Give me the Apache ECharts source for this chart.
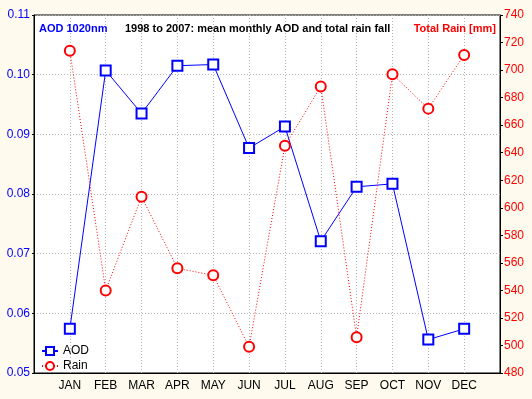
<!DOCTYPE html>
<html>
<head>
<meta charset="utf-8">
<script src="https://cdn.jsdelivr.net/npm/echarts@6/dist/echarts.min.js"></script>
<style>
    html, body { margin: 0; padding: 0; background: #fefaee; }
    #chart { width: 532px; height: 399px; }
</style>
</head>
<body>
<div id="chart"></div>
<script>
    'use strict';

    var months = ['JAN', 'FEB', 'MAR', 'APR', 'MAY', 'JUN', 'JUL', 'AUG', 'SEP', 'OCT', 'NOV', 'DEC'];
    var aod = [0.0574, 0.1007, 0.0935, 0.1015, 0.1017, 0.0877, 0.0913, 0.0721, 0.0812, 0.0817, 0.0556, 0.0574];
    var rain = [714, 540, 608, 556, 551, 499, 645, 688, 506, 697, 672, 711];

    var FONT = '"Liberation Sans", Arial, sans-serif';

    var toPairs = function (values) {
        return values.map(function (v, i) { return [i + 1, v]; });
    };

    var chart = echarts.init(document.getElementById('chart'));

    chart.setOption({
        backgroundColor: '#fefaee',
        animation: false,
        grid: {
            left: 34, right: 32, top: 15, bottom: 26,
            show: true,
            backgroundColor: '#ffffff',
            borderColor: '#000000',
            borderWidth: 1
        },
        title: [
            { text: 'AOD 1020nm', left: 39, top: 23, padding: 0,
              textStyle: { color: '#0000ff', fontSize: 11, fontWeight: 'bold', fontFamily: FONT } },
            { text: '1998 to 2007: mean monthly AOD and total rain fall', left: 125, top: 23, padding: 0,
              textStyle: { color: '#000000', fontSize: 11, fontWeight: 'bold', fontFamily: FONT } },
            { text: 'Total Rain [mm]', right: 36, top: 23, padding: 0,
              textStyle: { color: '#ff0000', fontSize: 11, fontWeight: 'bold', fontFamily: FONT } }
        ],
        legend: {
            orient: 'vertical',
            left: 41, top: 345, padding: 0,
            itemWidth: 16, itemHeight: 10, itemGap: 3,
            textStyle: { color: '#000000', fontSize: 12, fontFamily: FONT },
            data: ['AOD', 'Rain']
        },
        xAxis: {
            type: 'value',
            min: 0, max: 13, interval: 1,
            axisLine: { lineStyle: { color: '#000000' } },
            axisTick: { show: false },
            axisLabel: {
                color: '#000000', fontSize: 12, fontFamily: FONT, margin: 7,
                formatter: function (v) { return months[v - 1] || ''; }
            },
            splitLine: { lineStyle: { color: '#b4b4b4', type: [1, 2] } }
        },
        yAxis: [
            {
                type: 'value',
                min: 0.05, max: 0.11, interval: 0.01,
                axisLine: { show: true, lineStyle: { color: '#000000' } },
                axisTick: { show: true, length: 2, lineStyle: { color: '#000000' } },
                axisLabel: {
                    color: '#0000ff', fontSize: 12, fontFamily: FONT, margin: 4,
                    formatter: function (v) { return v.toFixed(2); }
                },
                splitLine: { lineStyle: { color: '#b4b4b4', type: [1, 2] } }
            },
            {
                type: 'value',
                position: 'right',
                min: 480, max: 740, interval: 20,
                axisLine: { show: true, lineStyle: { color: '#000000' } },
                axisTick: { show: true, length: 3, lineStyle: { color: '#000000' } },
                axisLabel: { color: '#ff0000', fontSize: 12, fontFamily: FONT, margin: 4 },
                splitLine: { show: false }
            }
        ],
        series: [
            {
                name: 'AOD',
                type: 'line',
                yAxisIndex: 0,
                data: toPairs(aod),
                symbol: 'rect',
                symbolSize: 10,
                color: '#0000ff',
                lineStyle: { color: '#0000ff', width: 1 },
                itemStyle: { color: '#ffffff', borderColor: '#0000ff', borderWidth: 2 }
            },
            {
                name: 'Rain',
                type: 'line',
                yAxisIndex: 1,
                data: toPairs(rain),
                symbol: 'circle',
                symbolSize: 10,
                color: '#ff0000',
                lineStyle: { color: '#ff0000', width: 1, type: [1, 2] },
                itemStyle: { color: '#ffffff', borderColor: '#ff0000', borderWidth: 2 }
            }
        ]
    });
</script>
</body>
</html>
